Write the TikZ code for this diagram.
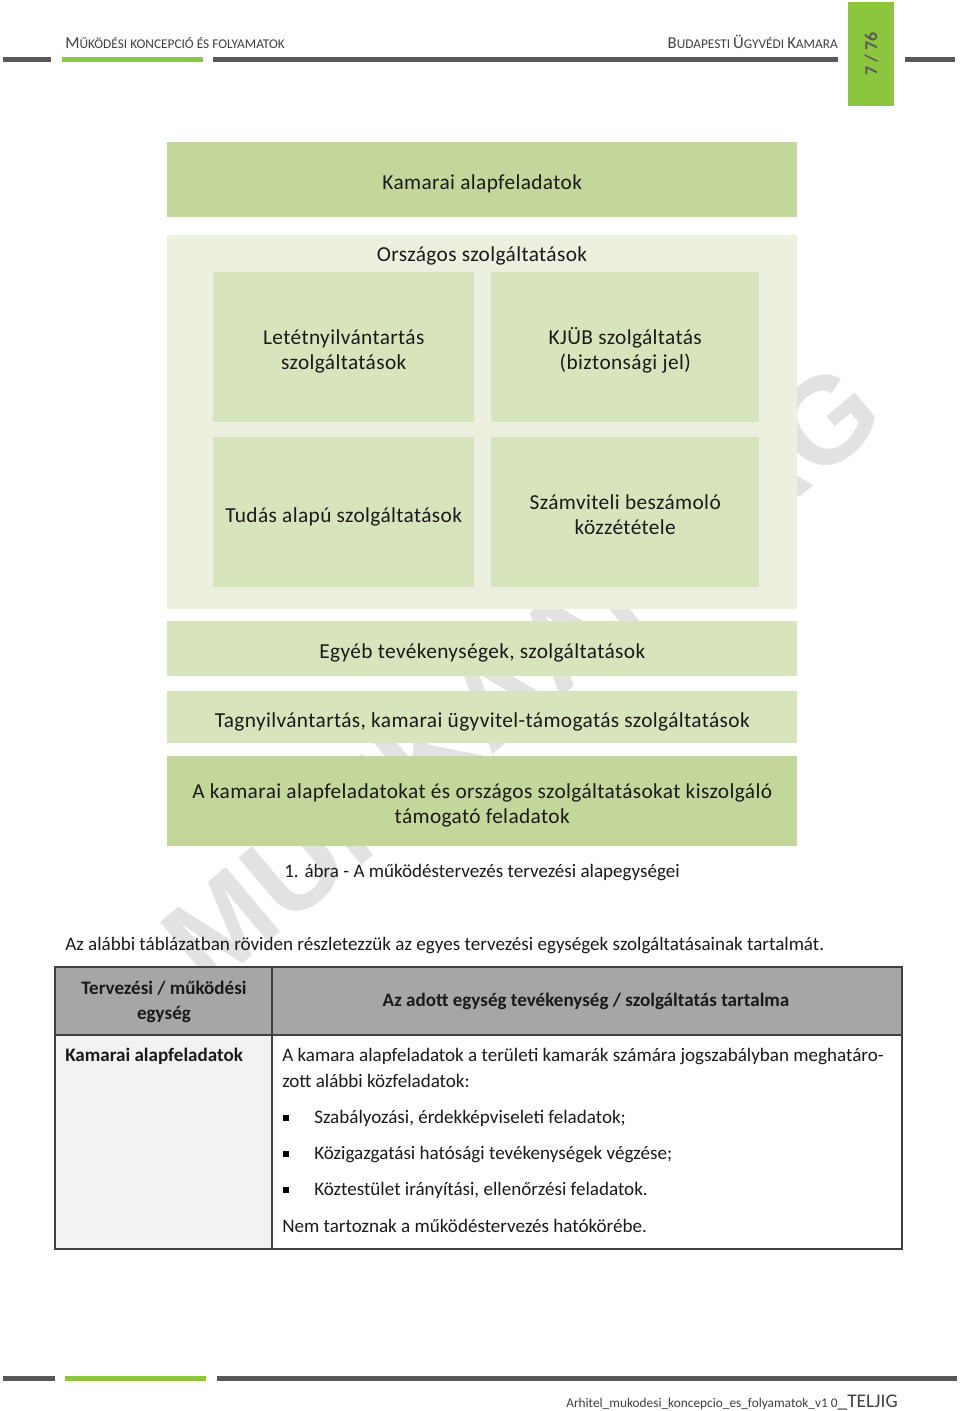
\documentclass[tikz,border=0pt]{standalone}
\usepackage{fontspec}
\setmainfont{Carlito}
\newfontfamily\wmfont{Liberation Sans}
\newfontfamily\dfont[LetterSpace=1.8]{Carlito}
\definecolor{dk}{HTML}{595959}
\definecolor{hdtxt}{HTML}{404040}
\definecolor{gr}{HTML}{8CC63E}
\definecolor{boxA}{HTML}{C4D79B}
\definecolor{boxB}{HTML}{D8E4BC}
\definecolor{boxC}{HTML}{EBF1DE}
\definecolor{thead}{HTML}{A6A6A6}
\definecolor{tleft}{HTML}{F2F2F2}
\definecolor{wm}{HTML}{E2E2E2}
\definecolor{txt}{HTML}{1A1A1A}
\tikzset{
  dbox/.style={anchor=north west, inner sep=0pt, align=center, text=txt,
    text height=15.5pt, text depth=0.5pt,
    font=\dfont\fontsize{16}{18.75}\selectfont},
  dboxtwo/.style={dbox, text height=34.25pt},
  btxt/.style={anchor=base west, inner sep=0pt, text=txt,
    font=\fontsize{14.3}{17}\selectfont},
  ctxt/.style={anchor=base, inner sep=0pt, text=txt,
    font=\fontsize{14.3}{17}\selectfont},
  bar/.style={line width=3.75pt},
  tline/.style={draw=hdtxt, line width=0.9pt},
  bullet/.style={fill=black, inner sep=0pt, minimum size=3.8pt}
}
\newcommand{\bigc}[1]{{\fontsize{12.5}{14}\selectfont #1}}
\newcommand{\smc}[1]{{\fontsize{10}{12}\selectfont #1}}
\begin{document}
\begin{tikzpicture}[x=0.75pt,y=-0.75pt]
\useasboundingbox (0,0) rectangle (960,1411);
\fill[white] (0,0) rectangle (960,1411);

% watermark
\node[rotate=40, text=wm, inner sep=0pt, font=\wmfont\bfseries\fontsize{92}{92}\selectfont] (wmk) at (522,675) {MUNKAANYAG};

% header
\draw[bar, dk] (3,59) -- (51,59);
\draw[bar, gr] (62,59) -- (203,59);
\draw[bar, dk] (213,59) -- (838,59);
\draw[bar, dk] (905,59) -- (955,59);
\node[fill=gr, anchor=north west, inner sep=0pt, minimum width=34.5pt, minimum height=78pt] (tab) at (848,2) {};
\node[rotate=90, text=dk, inner sep=0pt, font=\bfseries\fontsize{13.5}{14}\selectfont] (pg) at (tab.center) {7 / 76};
\node[anchor=base west, inner sep=0pt, text=hdtxt] (hl) at (65,48)
  {\bigc{M}\smc{ŰKÖDÉSI KONCEPCIÓ ÉS FOLYAMATOK}};
\node[anchor=base east, inner sep=0pt, text=hdtxt] (hr) at (838,48)
  {\bigc{B}\smc{UDAPESTI }\bigc{Ü}\smc{GYVÉDI }\bigc{K}\smc{AMARA}};

% diagram
\node[dbox, fill=boxA, minimum width=472.5pt, minimum height=56.25pt] (kam) at (167,142) {Kamarai alapfeladatok};
\node[dbox, fill=boxC, minimum width=472.5pt, minimum height=280.5pt] (orsz) at (167,235) {};
\node[anchor=center, inner sep=0pt, text=txt, font=\dfont\fontsize{16}{18.75}\selectfont] (orszt) at (482,256) {Országos szolgáltatások};
\node[dboxtwo, fill=boxB, minimum width=195.75pt, minimum height=112.5pt] (let) at (213,272) {Letétnyilvántartás\\szolgáltatások};
\node[dboxtwo, fill=boxB, minimum width=201pt, minimum height=112.5pt] (kjub) at (491,272) {KJÜB szolgáltatás\\(biztonsági jel)};
\node[dbox, fill=boxB, minimum width=195.75pt, minimum height=112.5pt] (tud) at (213,437) {Tudás alapú szolgáltatások};
\node[dboxtwo, fill=boxB, minimum width=201pt, minimum height=112.5pt] (szam) at (491,437) {Számviteli beszámoló\\közzététele};
\node[dbox, fill=boxB, minimum width=472.5pt, minimum height=41.25pt] (egy) at (167,621) {Egyéb tevékenységek, szolgáltatások};
\node[dbox, fill=boxB, minimum width=472.5pt, minimum height=39pt] (tag) at (167,691) {Tagnyilvántartás, kamarai ügyvitel-támogatás szolgáltatások};
\node[dboxtwo, fill=boxA, minimum width=472.5pt, minimum height=67.5pt] (tam) at (167,756) {A kamarai alapfeladatokat és országos szolgáltatásokat kiszolgáló\\támogató feladatok};

\node[ctxt] (cap) at (482,877) {1. ábra - A működéstervezés tervezési alapegységei};
\node[btxt] (intro) at (65,950) {Az alábbi táblázatban röviden részletezzük az egyes tervezési egységek szolgáltatásainak tartalmát.};

% table
\fill[thead] (55,967) rectangle (902,1035);
\fill[tleft] (55,1035) rectangle (272,1249);
\draw[tline] (55,967) rectangle (902,1249);
\draw[tline] (55,1035) -- (902,1035);
\draw[tline] (272,967) -- (272,1249);

\node[ctxt, font=\bfseries\fontsize{14.3}{17}\selectfont] (h1a) at (164,994) {Tervezési / működési};
\node[ctxt, font=\bfseries\fontsize{14.3}{17}\selectfont] (h1b) at (164,1019) {egység};
\node[ctxt, font=\bfseries\fontsize{14.3}{17}\selectfont] (h2) at (586,1006) {Az adott egység tevékenység / szolgáltatás tartalma};
\node[btxt, font=\bfseries\fontsize{14.3}{17}\selectfont] (c1) at (65,1061) {Kamarai alapfeladatok};
\node[btxt] (r1) at (282,1061) {A kamara alapfeladatok a területi kamarák számára jogszabályban meghatáro-};
\node[btxt] (r2) at (282,1087) {zott alábbi közfeladatok:};
\node[bullet] (b1) at (286,1118) {};
\node[btxt] (r3) at (314,1123) {Szabályozási, érdekképviseleti feladatok;};
\node[bullet] (b2) at (286,1154) {};
\node[btxt] (r4) at (314,1159) {Közigazgatási hatósági tevékenységek végzése;};
\node[bullet] (b3) at (286,1190) {};
\node[btxt] (r5) at (314,1195) {Köztestület irányítási, ellenőrzési feladatok.};
\node[btxt] (r6) at (282,1232) {Nem tartoznak a működéstervezés hatókörébe.};

% footer
\draw[bar, dk] (3,1378) -- (55,1378);
\draw[bar, gr] (65,1378) -- (206,1378);
\draw[bar, dk] (217,1378) -- (957,1378);
\node[anchor=base east, inner sep=0pt, text=hdtxt] (ft) at (898,1407)
  {{\fontsize{10}{12}\selectfont Arhitel\_mukodesi\_koncepcio\_es\_folyamatok\_v1 0}{\fontsize{14.5}{16}\selectfont \_TELJIG}};
\end{tikzpicture}
\end{document}
